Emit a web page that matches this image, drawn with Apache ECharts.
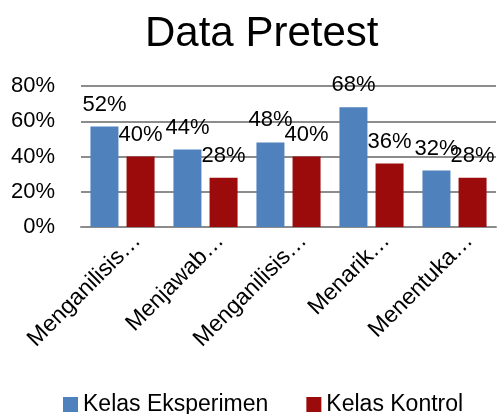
<!DOCTYPE html>
<html>
<head>
<meta charset="utf-8">
<script src="https://cdn.jsdelivr.net/npm/echarts@6/dist/echarts.min.js"></script>
<style>
  html, body { margin: 0; padding: 0; background: #fff; }
  #main { width: 497px; height: 414px; }
</style>
</head>
<body>
<div id="main"></div>
<script>
// categories (truncated as in the original chart)
const categories = ['Menganilisis…', 'Menjawab…', 'Menganilisis…', 'Menarik…', 'Menentuka…'];
const seriesNames = ['Kelas Eksperimen', 'Kelas Kontrol'];
// bar heights (%)
const eksperimen = [57, 44, 48, 68, 32];
const kontrol = [40, 28, 40, 36, 28];
// data label texts as printed on the chart
const eksperimenLabels = ['52%', '44%', '48%', '68%', '32%'];
const kontrolLabels = ['40%', '28%', '40%', '36%', '28%'];
const yTicks = [0, 20, 40, 60, 80];

const FONT = '"Liberation Sans", Arial, sans-serif';

const chart = echarts.init(document.getElementById('main'));

const labelStyle = (texts) => ({
  show: true,
  position: 'top',
  distance: 11,
  color: '#000',
  fontFamily: FONT,
  fontSize: 22,
  formatter: (p) => texts[p.dataIndex]
});

const option = {
  animation: false,
  backgroundColor: '#fff',
  title: {
    text: 'Data Pretest',
    left: 140,
    top: 8,
    textStyle: { fontFamily: FONT, fontSize: 42, fontWeight: 'normal', color: '#000' }
  },
  legend: {
    data: seriesNames,
    left: 58,
    top: 388,
    icon: 'rect',
    itemWidth: 15,
    itemHeight: 15,
    itemGap: 38,
    textStyle: { fontFamily: FONT, fontSize: 23, color: '#000' }
  },
  grid: { left: 81, right: 1, top: 86, bottom: 187 },
  xAxis: {
    type: 'category',
    data: categories,
    axisLine: { lineStyle: { color: '#8c8c8c', width: 2 } },
    axisTick: { show: false },
    axisLabel: {
      rotate: 45,
      interval: 0,
      margin: 25,
      padding: [0, -21, 0, 0],
      color: '#000',
      fontFamily: FONT,
      fontSize: 23
    }
  },
  yAxis: {
    type: 'value',
    min: yTicks[0],
    max: yTicks[yTicks.length - 1],
    interval: 20,
    axisLine: { show: false },
    axisTick: { show: false },
    splitLine: { lineStyle: { color: '#8c8c8c', width: 2 } },
    axisLabel: {
      formatter: '{value}%',
      margin: 26,
      color: '#000',
      fontFamily: FONT,
      fontSize: 22
    }
  },
  series: [
    {
      name: seriesNames[0],
      type: 'bar',
      data: eksperimen,
      barWidth: 28,
      barGap: '29%',
      itemStyle: { color: '#4f81bd' },
      label: labelStyle(eksperimenLabels)
    },
    {
      name: seriesNames[1],
      type: 'bar',
      data: kontrol,
      barWidth: 28,
      barGap: '29%',
      itemStyle: { color: '#9b0b0b' },
      label: labelStyle(kontrolLabels)
    }
  ]
};

chart.setOption(option);
</script>
</body>
</html>
